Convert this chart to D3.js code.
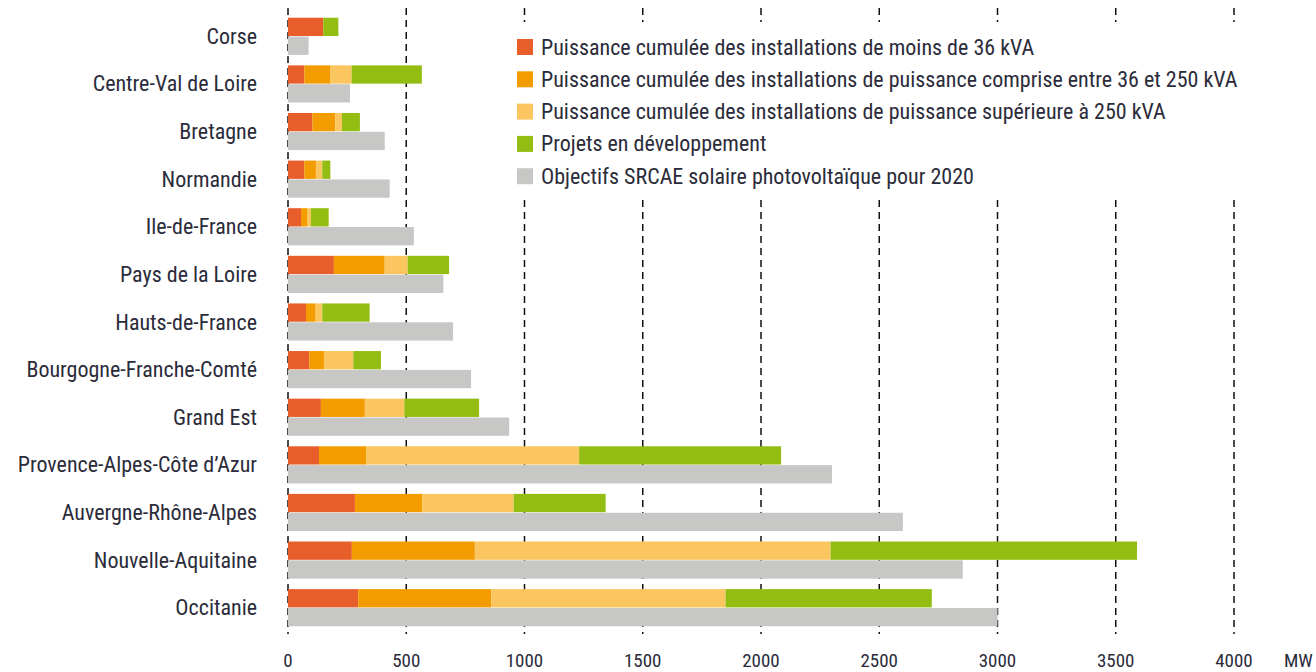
<!DOCTYPE html>
<html>
<head>
<meta charset="utf-8">
<script src="https://cdn.jsdelivr.net/npm/d3@7"></script>
<style>
  body { margin: 0; background: #fff; }
  text { font-family: Roboto, "Liberation Sans", sans-serif; font-stretch: condensed; fill: #2b2b3a; }
</style>
</head>
<body>
<div id="chart"></div>
<script>
// regions, top to bottom
const regions = ["Corse", "Centre-Val de Loire", "Bretagne", "Normandie", "Ile-de-France",
    "Pays de la Loire", "Hauts-de-France", "Bourgogne-Franche-Comté", "Grand Est",
    "Provence-Alpes-Côte d\u2019Azur", "Auvergne-Rhône-Alpes", "Nouvelle-Aquitaine", "Occitanie"];

// MW values
const moins36 = [149, 69, 103, 69, 55, 194, 76, 90, 139, 131, 283, 270, 297];
const entre36et250 = [0, 111, 97, 49, 28, 215, 41, 62, 186, 201, 285, 520, 563];
const plus250 = [0, 89, 28, 27, 14, 97, 28, 124, 167, 899, 386, 1504, 990];
const projets = [64, 297, 76, 34, 75, 175, 200, 117, 316, 854, 389, 1296, 872];
const objectifs = [87, 262, 409, 430, 532, 657, 698, 774, 935, 2300, 2600, 2853, 3000];

const xTicks = [0, 500, 1000, 1500, 2000, 2500, 3000, 3500, 4000];

const seriesKeys = ["moins36", "entre", "plus250", "projets"];
const seriesLabels = [
    "Puissance cumulée des installations de moins de 36 kVA",
    "Puissance cumulée des installations de puissance comprise entre 36 et 250 kVA",
    "Puissance cumulée des installations de puissance supérieure à 250 kVA",
    "Projets en développement",
    "Objectifs SRCAE solaire photovoltaïque pour 2020"
];
const colors = ["#e85e2b", "#f39c00", "#fbc55f", "#93bd12", "#c7c7c6"];

const W = 1316, H = 672;

const svg = d3.select("#chart").append("svg")
    .attr("width", W)
    .attr("height", H);

const x = d3.scaleLinear()
    .domain([0, 4000])
    .range([288, 1234]);

const y = d3.scaleBand()
    .domain(regions)
    .range([12.5, 631.5])
    .paddingInner(0.22)
    .paddingOuter(0.11);

const sub = d3.scaleBand()
    .domain(["stack", "obj"])
    .range([0, y.bandwidth()])
    .paddingInner(0.03);

// table for the stack
const table = regions.map(function (r, i) {
    return {region: r, moins36: moins36[i], entre: entre36et250[i], plus250: plus250[i], projets: projets[i], obj: objectifs[i]};
});
const stacked = d3.stack().keys(seriesKeys)(table);

// dashed grid lines
svg.append("g")
    .selectAll("line")
    .data(xTicks)
    .enter().append("line")
    .attr("x1", d => x(d))
    .attr("x2", d => x(d))
    .attr("y1", 8)
    .attr("y2", 634)
    .attr("stroke", "#111")
    .attr("stroke-width", 1.5)
    .attr("stroke-dasharray", "7,5");

// legend background hides the grid behind it
svg.append("rect")
    .attr("x", 505)
    .attr("y", 22)
    .attr("width", 760)
    .attr("height", 173)
    .attr("fill", "#fff");

// objectif bars
svg.append("g")
    .selectAll("rect")
    .data(table)
    .enter().append("rect")
    .attr("x", x(0))
    .attr("y", d => y(d.region) + sub("obj"))
    .attr("width", d => x(d.obj) - x(0))
    .attr("height", sub.bandwidth())
    .attr("fill", colors[4]);

// stacked bars
svg.append("g")
    .selectAll("g")
    .data(stacked)
    .enter().append("g")
    .attr("fill", (d, i) => colors[i])
    .selectAll("rect")
    .data(d => d)
    .enter().append("rect")
    .attr("x", d => x(d[0]))
    .attr("y", d => y(d.data.region) + sub("stack"))
    .attr("width", d => x(d[1]) - x(d[0]))
    .attr("height", sub.bandwidth());

// region labels
svg.append("g")
    .selectAll("text")
    .data(regions)
    .enter().append("text")
    .attr("x", 257)
    .attr("y", d => y(d) + y.bandwidth() / 2)
    .attr("text-anchor", "end")
    .attr("dominant-baseline", "central")
    .style("font-size", "22px")
    .text(d => d);

// x tick labels
svg.append("g")
    .selectAll("text")
    .data(xTicks)
    .enter().append("text")
    .attr("x", d => x(d))
    .attr("y", 660)
    .attr("text-anchor", "middle")
    .attr("dominant-baseline", "central")
    .style("font-size", "19px")
    .text(d => d);

svg.append("text")
    .attr("x", 1284)
    .attr("y", 660)
    .attr("dominant-baseline", "central")
    .style("font-size", "19px")
    .text("MW");

// legend
const legend = svg.append("g")
    .selectAll("g")
    .data(seriesLabels)
    .enter().append("g")
    .attr("transform", (d, i) => "translate(517," + (47 + i * 32.3) + ")");

legend.append("rect")
    .attr("x", 0)
    .attr("y", -8)
    .attr("width", 16)
    .attr("height", 16)
    .attr("fill", (d, i) => colors[i]);

legend.append("text")
    .attr("x", 24)
    .attr("y", 0)
    .attr("dominant-baseline", "central")
    .style("font-size", "22px")
    .text(d => d);
</script>
</body>
</html>
